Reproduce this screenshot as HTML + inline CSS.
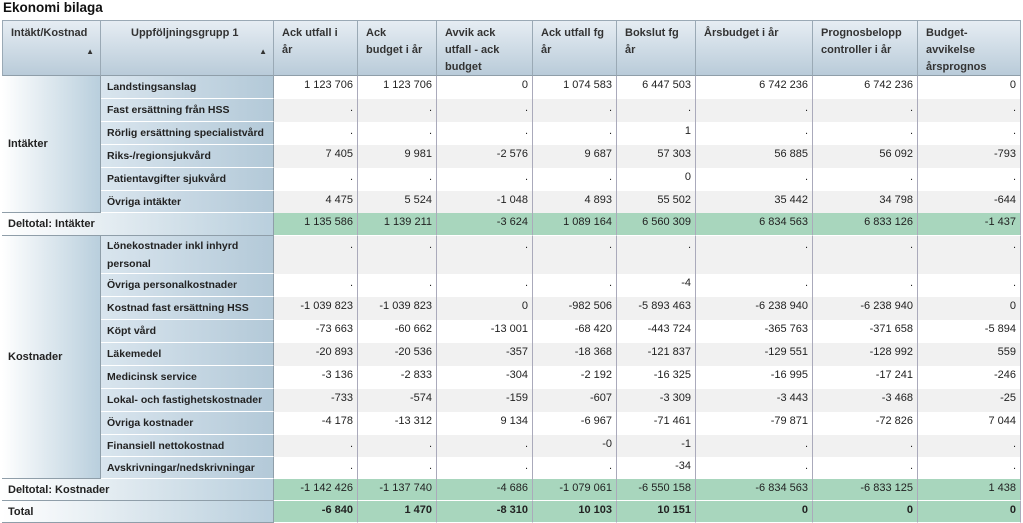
<!DOCTYPE html>
<html><head><meta charset="utf-8"><style>
body{margin:0;width:1023px;height:523px;background:#fff;font-family:"Liberation Sans",sans-serif;overflow:hidden;position:relative}
.a{position:absolute;box-sizing:border-box;font-size:11px;color:#222}
.t{left:3px;top:0;font-size:13.5px;font-weight:bold;color:#111}
.h{background:linear-gradient(#e6edf3,#b9cbd9);border-right:1px solid #9aa9b5;border-bottom:1px solid #8f9ea9;border-top:1px solid #9aa9b5;font-weight:bold;padding:4px 8px;line-height:17px;color:#333}
.g1{background:linear-gradient(90deg,#fff,#b9cfdd);border-right:1px solid #8f9ea9;border-bottom:1px solid #8f9ea9;font-weight:bold;padding-left:6px;display:flex;align-items:center}
.g2{background:linear-gradient(90deg,#d9e5ee,#b3c9d8);border-bottom:1px solid #fff;border-right:1px solid #8f9ea9;font-weight:bold;padding-left:6px;display:flex;align-items:center;line-height:18px;font-size:10.5px;white-space:normal}
.v{text-align:right;padding:3px 4px 0 0;border-right:1px solid #aab}
.gr{background:#f1f1f1}.gn{background:#a8d6bd}
.tri{position:absolute;font-size:8px;right:6px;top:22px}
</style></head><body>
<div class="a t">Ekonomi bilaga</div>
<div id="root"></div>
<script>
const xs=[2,101,274,358,437,533,617,696,813,918,1021];
const headerHtml=["Intäkt/Kostnad","Uppföljningsgrupp 1","Ack utfall i<br>år","Ack<br>budget i år","Avvik ack<br>utfall - ack<br>budget","Ack utfall fg<br>år","Bokslut fg<br>år","Årsbudget i år","Prognosbelopp<br>controller i år","Budget-<br>avvikelse<br>årsprognos"];
const incomeRows=["Landstingsanslag","Fast ersättning från HSS","Rörlig ersättning specialistvård","Riks-/regionsjukvård","Patientavgifter sjukvård","Övriga intäkter"];
const incomeVals=[
["1 123 706","1 123 706","0","1 074 583","6 447 503","6 742 236","6 742 236","0"],
[".",".",".",".",".",".",".","."],
[".",".",".",".","1",".",".","."],
["7 405","9 981","-2 576","9 687","57 303","56 885","56 092","-793"],
[".",".",".",".","0",".",".","."],
["4 475","5 524","-1 048","4 893","55 502","35 442","34 798","-644"]];
const incomeTotal=["1 135 586","1 139 211","-3 624","1 089 164","6 560 309","6 834 563","6 833 126","-1 437"];
const costRows=["Lönekostnader inkl inhyrd personal","Övriga personalkostnader","Kostnad fast ersättning HSS","Köpt vård","Läkemedel","Medicinsk service","Lokal- och fastighetskostnader","Övriga kostnader","Finansiell nettokostnad","Avskrivningar/nedskrivningar"];
const costVals=[
[".",".",".",".",".",".",".","."],
[".",".",".",".","-4",".",".","."],
["-1 039 823","-1 039 823","0","-982 506","-5 893 463","-6 238 940","-6 238 940","0"],
["-73 663","-60 662","-13 001","-68 420","-443 724","-365 763","-371 658","-5 894"],
["-20 893","-20 536","-357","-18 368","-121 837","-129 551","-128 992","559"],
["-3 136","-2 833","-304","-2 192","-16 325","-16 995","-17 241","-246"],
["-733","-574","-159","-607","-3 309","-3 443","-3 468","-25"],
["-4 178","-13 312","9 134","-6 967","-71 461","-79 871","-72 826","7 044"],
[".",".",".","-0","-1",".",".","."],
[".",".",".",".","-34",".",".","."]];
const costTotal=["-1 142 426","-1 137 740","-4 686","-1 079 061","-6 550 158","-6 834 563","-6 833 125","1 438"];
const grandTotal=["-6 840","1 470","-8 310","10 103","10 151","0","0","0"];
const root=document.getElementById('root');
function box(cls,x,y,w,h,html){const d=document.createElement('div');d.className='a '+cls;d.style.left=x+'px';d.style.top=y+'px';d.style.width=w+'px';d.style.height=h+'px';d.innerHTML=html;root.appendChild(d);return d;}
headerHtml.forEach((hh,i)=>{const d=box('h',xs[i],20,xs[i+1]-xs[i],56,hh);


if(i==0)d.style.borderLeft='1px solid #9aa9b5';
if(i==1)d.style.paddingLeft='30px';
if(i<2){const t=document.createElement('span');t.className='tri';t.textContent='▲';d.appendChild(t);}});
function dataRow(label,vals,y,h,alt){
 const l=box('g2',xs[1],y,xs[2]-xs[1],h,label);
 
 
 vals.forEach((v,j)=>{const c=box('v'+(alt?' gr':''),xs[j+2],y,xs[j+3]-xs[j+2],h,v);
 
 });
}
function totalRow(label,vals,y,h){
 const l=box('g1',xs[0],y,xs[2]-xs[0],h,label);
 
 
 vals.forEach((v,j)=>{const c=box('v gn',xs[j+2],y,xs[j+3]-xs[j+2],h,v);
 c.style.borderBottom='1px solid #fff';
 if(label==='Total')c.style.fontWeight='bold';
 
 });
}
let y=76;
const g=box('g1',xs[0],y,xs[1]-xs[0],137,'Intäkter');


incomeRows.forEach((r,i)=>{const h=i==5?22:23;dataRow(r,incomeVals[i],y,h,i%2==1);y+=h;});
totalRow('Deltotal: Intäkter',incomeTotal,213,23);
y=236;
const g2=box('g1',xs[0],y,xs[1]-xs[0],243,'Kostnader');


costRows.forEach((r,i)=>{const h=i==0?38:(i>=8?22:23);dataRow(r,costVals[i],y,h,i%2==0);y+=h;});
totalRow('Deltotal: Kostnader',costTotal,479,22);
totalRow('Total',grandTotal,501,22);
</script>
</body></html>
